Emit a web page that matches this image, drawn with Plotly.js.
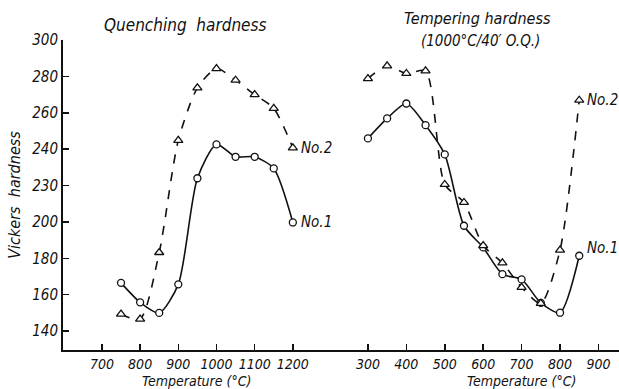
<!DOCTYPE html>
<html>
<head>
<meta charset="utf-8">
<script src="https://cdn.plot.ly/plotly-3.0.1.min.js"></script>
<style>html,body{margin:0;padding:0;background:#fff;}#chart{width:619px;height:389px;}</style>
</head>
<body>
<div id="chart"></div>
<script>
// Quenching hardness
const qTemp = [750, 800, 850, 900, 950, 1000, 1050, 1100, 1150, 1200];
const qNo1 = [166.5, 155.8, 150, 165.7, 224, 242.6, 235.8, 235.8, 229.4, 199.7];
const qNo2 = [149.3, 146.6, 183.2, 244.8, 273.7, 284.3, 277.9, 270, 262.4, 240.7];
// Tempering hardness
const tTemp = [300, 350, 400, 450, 500, 550, 600, 650, 700, 750, 800, 850];
const tNo1 = [245.9, 256.9, 265.1, 253.2, 237.1, 197.9, 186, 171.3, 168.4, 155.5, 150.1, 181.4];
const tNo2 = [278.8, 285.8, 281.6, 283, 220.6, 210.7, 187, 177.5, 164, 155.2, 184.5, 266.9];
// Axis ticks
const yTickVals = [140, 160, 180, 200, 220, 240, 260, 280, 300];
const yTickText = ['140', '160', '180', '200', '230', '240', '260', '280', '300'];
const qTicks = [700, 800, 900, 1000, 1100, 1200];
const tTicks = [300, 400, 500, 600, 700, 800, 900];

const FONT = 'DejaVu Sans Condensed, DejaVu Sans, sans-serif';
const ink = '#111';
const it = s => '<i>' + s + '</i>';

function series(x, y, dash, sym, xa) {
  return {
    x: x, y: y, xaxis: xa, yaxis: 'y', type: 'scatter', mode: 'lines+markers',
    line: {color: ink, width: 1.6, dash: dash, shape: 'spline', smoothing: 0.7},
    marker: {symbol: sym, size: sym === 'circle' ? 7 : 8, color: '#fff', line: {color: ink, width: 1.3}},
    showlegend: false, hoverinfo: 'skip'
  };
}

const data = [
  series(qTemp, qNo1, 'solid', 'circle', 'x'),
  series(qTemp, qNo2, 'dash', 'triangle-up', 'x'),
  series(tTemp, tNo1, 'solid', 'circle', 'x2'),
  series(tTemp, tNo2, 'dash', 'triangle-up', 'x2')
];

const txtFont = (sz) => ({family: FONT, size: sz, color: ink});
const xCommon = {
  showline: true, linecolor: ink, linewidth: 2, ticks: 'inside', ticklen: 6,
  tickwidth: 1.5, tickcolor: ink, showgrid: false, zeroline: false,
  tickfont: txtFont(14), anchor: 'y', fixedrange: true
};

const layout = {
  width: 619, height: 389,
  margin: {l: 63, r: 0, t: 40, b: 39},
  paper_bgcolor: '#fff', plot_bgcolor: '#fff',
  xaxis: Object.assign({}, xCommon, {domain: [0, 0.48], range: [598, 1297], tickvals: qTicks, ticktext: qTicks.map(v => it(v))}),
  xaxis2: Object.assign({}, xCommon, {domain: [0.48, 1], range: [201, 953.5], tickvals: tTicks, ticktext: tTicks.map(v => it(v))}),
  yaxis: {
    range: [129.6, 300], showline: true, linecolor: ink, linewidth: 2,
    ticks: 'inside', ticklen: 6, tickwidth: 1.5, tickcolor: ink,
    tickvals: yTickVals, ticktext: yTickText.map(it), tickfont: txtFont(15),
    showgrid: false, zeroline: false, fixedrange: true,
    title: {text: it('Vickers  hardness'), font: txtFont(16), standoff: 8}
  },
  annotations: [
    {text: it('Quenching  hardness'), xref: 'paper', yref: 'paper', x: 0.22, y: 1.0, yshift: 3, xanchor: 'center', yanchor: 'bottom', showarrow: false, font: txtFont(17)},
    {text: it('Tempering hardness'), xref: 'paper', yref: 'paper', x: 0.745, y: 1.0, yshift: 10, xanchor: 'center', yanchor: 'bottom', showarrow: false, font: txtFont(16)},
    {text: it('(1000°C/40′ O.Q.)'), xref: 'paper', yref: 'paper', x: 0.75, y: 1.0, yshift: -12, xanchor: 'center', yanchor: 'bottom', showarrow: false, font: txtFont(15)},
    {text: it('Temperature (°C)'), xref: 'paper', yref: 'paper', x: 0.24, y: 0, yshift: -21, xanchor: 'center', yanchor: 'top', showarrow: false, font: txtFont(14)},
    {text: it('Temperature (°C)'), xref: 'paper', yref: 'paper', x: 0.825, y: 0, yshift: -21, xanchor: 'center', yanchor: 'top', showarrow: false, font: txtFont(14)},
    {text: it('No.2'), xref: 'x', yref: 'y', x: qTemp[qTemp.length-1], y: qNo2[qNo2.length-1], xanchor: 'left', yanchor: 'middle', xshift: 6, showarrow: false, font: txtFont(15)},
    {text: it('No.1'), xref: 'x', yref: 'y', x: qTemp[qTemp.length-1], y: qNo1[qNo1.length-1], xanchor: 'left', yanchor: 'middle', xshift: 6, showarrow: false, font: txtFont(15)},
    {text: it('No.2'), xref: 'x2', yref: 'y', x: tTemp[tTemp.length-1], y: tNo2[tNo2.length-1], xanchor: 'left', yanchor: 'middle', xshift: 6, showarrow: false, font: txtFont(15)},
    {text: it('No.1'), xref: 'x2', yref: 'y', x: tTemp[tTemp.length-1], y: tNo1[tNo1.length-1] + 4, xanchor: 'left', yanchor: 'middle', xshift: 6, showarrow: false, font: txtFont(15)}
  ]
};

Plotly.newPlot('chart', data, layout, {displayModeBar: false, staticPlot: true});
</script>
</body>
</html>
